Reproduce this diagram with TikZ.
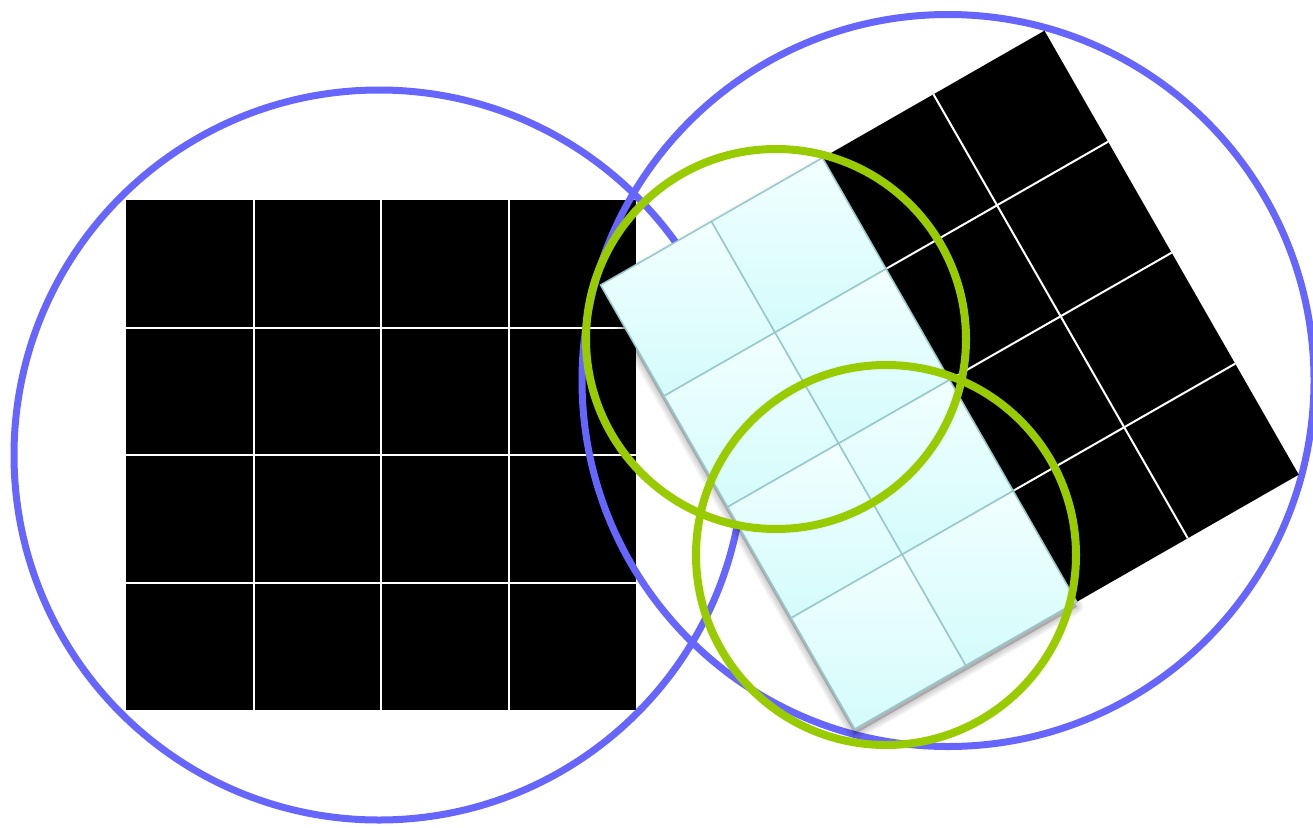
\documentclass[tikz,border=0pt]{standalone}
\usetikzlibrary{shadows}
\definecolor{bluec}{RGB}{102,102,255}
\definecolor{greenc}{RGB}{153,204,0}
\definecolor{cyantop}{RGB}{242,255,255}
\definecolor{cyanbot}{RGB}{212,251,251}
\definecolor{cellline}{RGB}{150,200,204}
\tikzset{
  bluering/.style={draw=bluec, line width=7pt},
  greenring/.style={draw=greenc, line width=8pt},
  gridline/.style={draw=white, line width=2pt},
  cyancell/.style={shape=rectangle, draw=cellline, line width=1.5pt,
    top color=cyantop, bottom color=cyanbot,
    minimum size=127.9pt, inner sep=0pt, rotate=29.8},
  blockshadow/.style={fill=black, draw=black, line join=round, opacity=0.045},
}
\begin{document}
\begin{tikzpicture}[x=1pt,y=-1pt]
\useasboundingbox (0,0) rectangle (1313,827);
% left grid
\fill[black] (126,200) rectangle (636,710);
\foreach \k in {1,2,3} {
  \draw[gridline] (126+127.5*\k,200) -- (126+127.5*\k,710);
  \draw[gridline] (126,200+127.5*\k) -- (636,200+127.5*\k);
}
% blue circles
\draw[bluering] (379,455) circle[radius=365pt];
\draw[bluering] (948,380.5) circle[radius=366pt];
% rotated grid
\begin{scope}[shift={(600.5pt,-285pt)}, x={(110.99pt,63.57pt)}, y={(63.57pt,-110.99pt)}]
  \fill[black] (2,0) -- (4,0) -- (4,4) -- (2,4) -- cycle;
  \draw[gridline] (3,0) -- (3,4);
  \foreach \j in {1,2,3} \draw[gridline] (2,\j) -- (4,\j);
  \foreach \w in {1,4,7,10,13}
    \filldraw[blockshadow, line width=\w pt, yshift=-5pt] (0,0) -- (2,0) -- (2,4) -- (0,4) -- cycle;
  \foreach \i in {0,1}
    \foreach \j in {0,...,3}
      \node[cyancell] (c\i\j) at (\i+0.5,\j+0.5) {};
\end{scope}
% green circles
\draw[greenring] (776,339) circle[radius=190pt];
\draw[greenring] (886,555) circle[radius=190pt];
\end{tikzpicture}
\end{document}
